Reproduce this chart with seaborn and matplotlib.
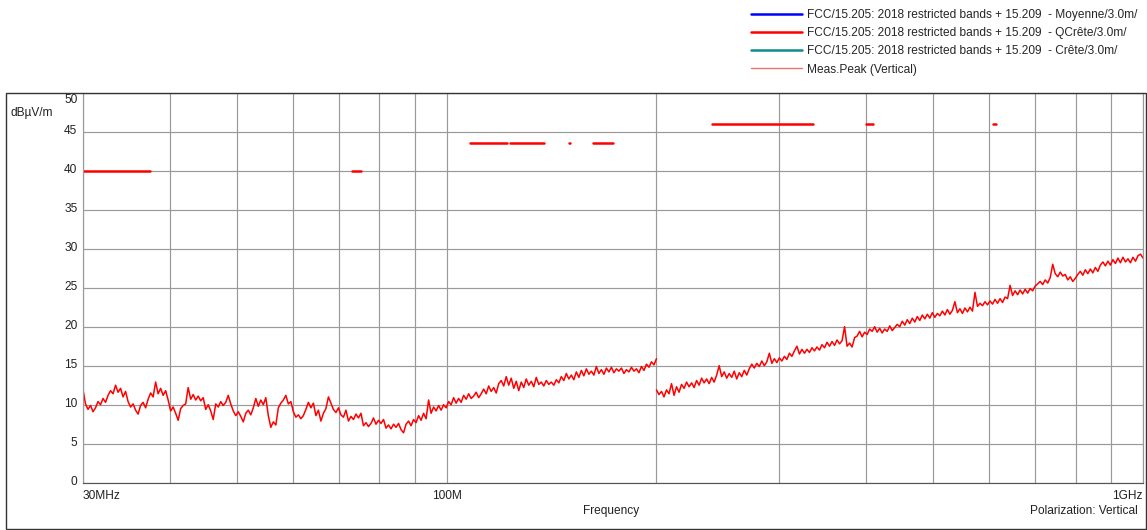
import numpy as np
import pandas as pd
import matplotlib
matplotlib.use("Agg")
import matplotlib.pyplot as plt
import matplotlib.transforms as mtransforms
from matplotlib.lines import Line2D
from matplotlib.patches import Rectangle
from matplotlib.ticker import NullFormatter
import seaborn as sns

# ---------------- data ----------------
# restricted-band limit segments (QCrête), MHz / dBµV/m
limit_start = [30, 73, 108, 123, 149.9, 156.7, 162.0125, 167.72, 240, 399.9, 608]
limit_end = [37.5, 75.2, 121.94, 138, 150.05, 156.9, 167.17, 173.2, 335.4, 410, 614]
limit_level = [40, 40, 43.5, 43.5, 43.5, 43.5, 43.5, 43.5, 46, 46, 46]

# sweep ranges (two receiver sub-ranges)
sweep_low = (30, 200)
sweep_high = (200, 1000)

# Meas.Peak (Vertical) readings, dBµV/m
peak_low = [
    11.9, 10.1, 9.4, 9.9, 9.1, 9.6, 10.4, 10.0, 10.8, 10.3,
    11.2, 11.8, 11.4, 12.5, 11.6, 12.1, 11.0, 11.7, 10.4, 9.7,
    10.1, 9.3, 8.8, 9.9, 10.3, 9.6, 10.7, 11.5, 11.0, 12.9,
    11.4, 12.1, 11.2, 11.8, 10.6, 9.2, 9.7, 8.9, 8.0, 9.5,
    9.9, 10.1, 12.2, 10.7, 11.3, 10.6, 11.1, 10.5, 10.9, 9.4,
    10.0, 9.2, 8.1, 10.1, 9.7, 10.4, 9.9, 10.3, 11.2, 10.1,
    9.2, 8.6, 9.1, 8.5, 7.8, 8.9, 9.3, 8.7, 9.6, 10.8,
    9.8, 10.6, 10.0, 10.9, 8.6, 7.1, 7.8, 7.4, 9.6, 10.2,
    10.6, 11.2, 10.1, 10.4, 9.1, 8.4, 8.7, 8.2, 8.6, 9.4,
    10.3, 9.6, 10.2, 8.6, 9.3, 7.9, 8.9, 9.5, 11.0, 10.2,
    9.4, 9.0, 9.6, 8.7, 8.4, 9.3, 7.9, 8.5, 8.1, 8.8,
    8.3, 8.9, 7.3, 7.7, 7.2, 7.6, 8.3, 7.5, 8.0, 7.6,
    8.1, 7.0, 7.4, 6.9, 7.5, 7.1, 7.6, 6.8, 6.4, 7.5,
    7.9, 7.3, 8.1, 7.7, 8.6, 8.0, 8.9, 8.2, 10.6, 8.9,
    9.7, 9.2, 9.9, 9.3, 10.0, 9.6, 10.4, 10.0, 10.9, 10.2,
    10.8, 10.3, 11.2, 10.7, 11.4, 10.8, 11.1, 11.6, 10.9, 11.4,
    12.0, 11.4, 12.4, 11.7, 12.2, 11.5, 12.7, 13.1, 12.4, 13.6,
    12.5, 13.4, 12.1, 13.0, 11.8, 12.9, 12.2, 13.3, 12.5, 13.0,
    12.3, 13.5, 12.6, 12.9, 12.4, 13.1, 12.6, 12.9, 12.5, 13.2,
    12.8, 13.6, 13.1, 14.0, 13.3, 13.8, 13.2, 14.2, 13.5, 14.4,
    13.7, 14.6, 13.9, 14.3, 13.8, 14.9, 14.0, 14.5, 13.9, 14.7,
    14.2, 14.8, 14.1, 14.6, 14.3, 14.7, 14.0, 14.5, 14.2, 14.8,
    14.3, 14.6, 14.1, 14.9, 14.4, 15.2, 14.8, 15.5, 15.1, 15.9,
]
peak_high = [
    11.9, 11.3, 11.7, 11.0, 11.9, 11.4, 12.7, 11.2, 12.3, 11.6,
    12.6, 12.1, 12.9, 12.3, 12.8, 12.2, 13.1, 12.5, 13.4, 12.8,
    13.3, 12.7, 13.5, 12.9, 13.8, 15.0, 13.6, 14.2, 13.4, 14.0,
    13.5, 14.3, 13.3, 14.1, 13.6, 14.4, 13.8, 14.6, 15.2, 14.7,
    15.3, 14.9, 15.6, 15.0, 15.5, 16.6, 15.3, 15.9, 15.4, 16.0,
    15.6, 16.2, 15.8, 16.6, 16.2, 16.9, 17.5, 16.5, 17.1, 16.6,
    17.1, 16.7, 17.3, 16.9, 17.4, 17.0, 17.7, 17.3, 18.0, 17.5,
    18.1, 17.6, 18.3, 17.8, 18.2, 20.0, 17.5, 17.9, 17.4, 18.6,
    18.8, 19.4, 18.7, 19.3, 19.0, 19.7, 19.4, 20.0, 19.3, 19.8,
    19.2, 19.7, 19.4, 20.1, 19.5, 19.9, 20.3, 20.0, 20.7, 20.2,
    20.9, 20.4, 21.1, 20.6, 21.3, 20.8, 21.5, 21.0, 21.6, 21.1,
    21.8, 21.2, 21.7, 21.4, 22.0, 21.5, 22.2, 21.6, 22.1, 23.2,
    21.8, 22.3, 21.7, 22.4, 21.9, 22.5, 22.0, 24.4, 22.6, 23.0,
    22.7, 23.2, 22.8, 23.3, 22.9, 23.5, 23.0, 23.6, 23.1, 23.8,
    23.6, 25.3, 24.0, 24.6, 24.1, 24.7, 24.2, 24.8, 24.3, 24.9,
    24.6, 25.2, 25.5, 25.8, 25.4, 26.0, 25.6, 26.3, 28.0, 26.8,
    26.4, 27.0, 26.5, 26.7, 26.0, 26.4, 25.8, 26.2, 26.7, 27.1,
    26.6, 27.3, 26.8, 27.4, 26.9, 27.6, 27.1, 27.9, 28.3, 27.8,
    28.4, 27.9, 28.6, 28.1, 28.8, 28.2, 28.9, 28.3, 28.7, 28.2,
    28.9, 28.4, 29.1, 29.3, 28.8,
]

y_ticks = [0, 5, 10, 15, 20, 25, 30, 35, 40, 45, 50]
x_ticks = [30, 100, 1000]
x_tick_labels = ["30MHz", "100M", "1GHz"]
x_grid = [40, 50, 60, 70, 80, 90, 200, 300, 400, 500, 600, 700, 800, 900]

legend_labels = [
    "FCC/15.205: 2018 restricted bands + 15.209  - Moyenne/3.0m/",
    "FCC/15.205: 2018 restricted bands + 15.209  - QCrête/3.0m/",
    "FCC/15.205: 2018 restricted bands + 15.209  - Crête/3.0m/",
    "Meas.Peak (Vertical)",
]
legend_colors = ["#0000ff", "#ff0000", "#138a8a", "#f07070"]

# ---------------- frames ----------------
trace_df = pd.concat([
    pd.DataFrame({"freq": np.geomspace(*sweep_low, len(peak_low)),
                  "level": peak_low, "seg": 0}),
    pd.DataFrame({"freq": np.geomspace(*sweep_high, len(peak_high)),
                  "level": peak_high, "seg": 1}),
], ignore_index=True)

lim_rows = []
for i, (s, e, l) in enumerate(zip(limit_start, limit_end, limit_level)):
    lim_rows.append({"freq": s, "level": l, "seg": i})
    lim_rows.append({"freq": e, "level": l, "seg": i})
lim_df = pd.DataFrame(lim_rows)

# ---------------- style ----------------
sns.set_theme(style="white")
plt.rcParams["font.family"] = ["Liberation Sans", "DejaVu Sans"]
FS = 8.6
GRID = "#9a9a9a"

W, H = 1147, 530
fig = plt.figure(figsize=(W / 100, H / 100), dpi=100)
ax_l, ax_r, ax_t, ax_b = 83, 1143, 92.7, 482.7
ax = fig.add_axes([ax_l / W, 1 - ax_b / H, (ax_r - ax_l) / W, (ax_b - ax_t) / H])

ax.set_xscale("log")
ax.set_xlim(30, 1000)
ax.set_ylim(0, 50)

# grid
ax.set_xticks(x_grid, minor=True)
ax.xaxis.set_minor_formatter(NullFormatter())
ax.set_xticks(x_ticks)
ax.set_xticklabels(x_tick_labels)
ax.set_yticks(y_ticks)
ax.set_yticklabels([str(v) for v in y_ticks[:-1]] + [""])
ax.grid(True, which="both", axis="x", color=GRID, lw=0.85)
ax.grid(True, which="major", axis="y", color=GRID, lw=0.85)
ax.set_axisbelow(True)

ax.tick_params(axis="x", which="minor", length=0)
ax.tick_params(axis="x", which="major", direction="out", length=4, width=0.8,
               color="black", labelsize=FS, pad=1.5, labelcolor="#222222")
ax.tick_params(axis="y", which="major", direction="out", length=3, width=0.8,
               color="black", labelsize=FS, pad=1, labelcolor="#222222")
xl = ax.get_xticklabels()
xl[0].set_ha("left")
xl[2].set_ha("right")
# nudge y labels slightly upward like the reference
offset = mtransforms.ScaledTranslation(0, 4.5 / 72, fig.dpi_scale_trans)
for lab in ax.get_yticklabels():
    lab.set_transform(lab.get_transform() + offset)
    lab.set_va("top")

ax.spines["top"].set_visible(False)
ax.spines["left"].set_color(GRID)
ax.spines["right"].set_color(GRID)
ax.spines["bottom"].set_color("#555555")
for s in ax.spines.values():
    s.set_linewidth(0.85)

# data
sns.lineplot(data=lim_df, x="freq", y="level", units="seg", estimator=None,
             color="#ff0000", lw=1.8, ax=ax, legend=False, sort=False)
sns.lineplot(data=trace_df, x="freq", y="level", units="seg", estimator=None,
             color="#ff0000", lw=1.1, ax=ax, legend=False, sort=False)
ax.set_xlabel("")
ax.set_ylabel("")

# top y label shifted inside frame
ax.annotate("50", xy=(0, 50), xycoords=("axes fraction", "data"),
            xytext=(-3.5, -5.5), textcoords="offset points",
            ha="right", va="center", fontsize=FS, color="#222222")

# texts
fig.text(10.5 / W, 1 - 113 / H, "dBµV/m", fontsize=FS, ha="left", va="center",
         color="#222222")
fig.text(611.5 / W, 1 - 511 / H, "Frequency", fontsize=FS, ha="center",
         va="center", color="#222222")
fig.text(1138 / W, 1 - 511 / H, "Polarization: Vertical", fontsize=FS,
         ha="right", va="center", color="#222222")

# outer frame
fig.patches.append(Rectangle((6 / W, 1 / H), 1140 / W, (529 - 92.7) / H,
                             transform=fig.transFigure, fill=False,
                             edgecolor="#333333", lw=1.0))

# legend
handles = [Line2D([], [], color=c, lw=(1.0 if i == 3 else 1.8))
           for i, c in enumerate(legend_colors)]
fig.legend(handles, legend_labels, loc="upper left",
           bbox_to_anchor=(751 / W, 1 - 9 / H), frameon=False,
           fontsize=FS, handlelength=4.25, handletextpad=0.45,
           labelspacing=0.52, borderpad=0, borderaxespad=0)

fig.savefig("out.png", dpi=100)
